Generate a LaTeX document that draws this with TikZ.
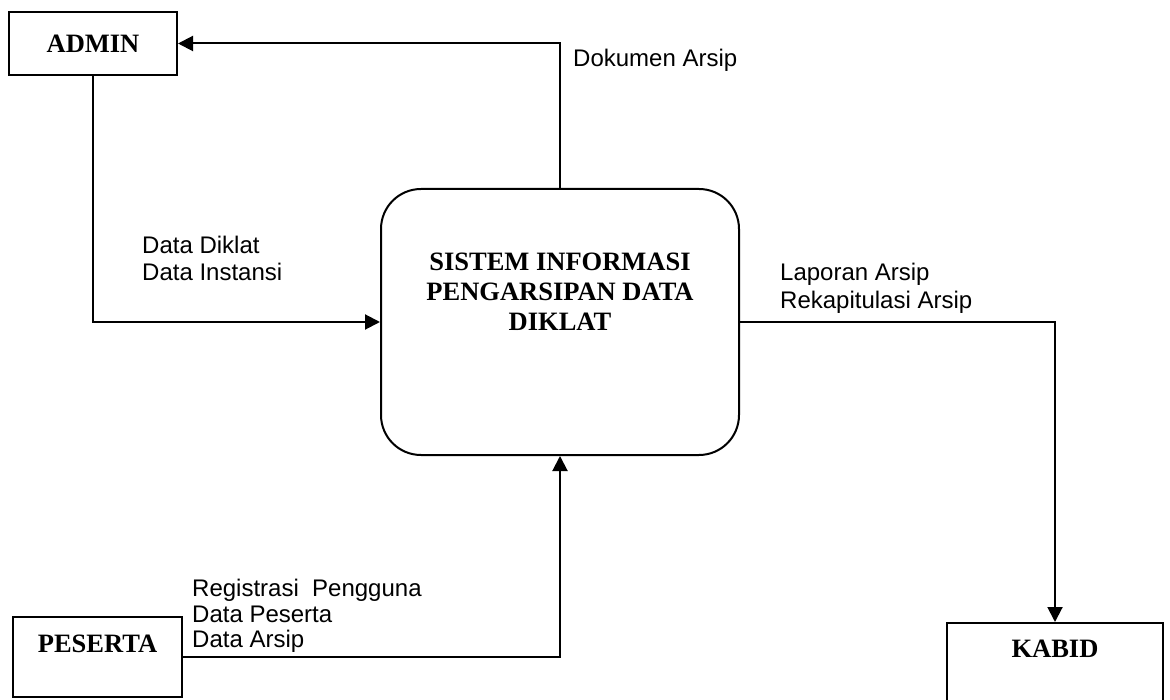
\documentclass[tikz,border=0pt]{standalone}
\usepackage{fontspec}
\setmainfont{Liberation Serif}
\newfontfamily\arialfont{Liberation Sans}
\usetikzlibrary{arrows.meta}
\begin{document}
\begin{tikzpicture}[x=1pt,y=-1pt,
  lw/.style={line width=2pt},
  entity/.style={draw,lw,rectangle,inner sep=0pt},
  bigtext/.style={font=\bfseries\fontsize{26.5}{30}\selectfont,inner sep=0pt,text depth=0pt,align=center},
  flowlabel/.style={font=\arialfont\fontsize{24}{27}\selectfont,inner sep=0pt,text depth=0pt,align=left,anchor=west},
  arr/.style={lw,-{Triangle[length=15pt,width=15pt]}}]
\useasboundingbox (0,0) rectangle (1170,700);
\fill[white] (0,0) rectangle (1170,700);

% entities
\node[entity,minimum width=168pt,minimum height=63pt,font=\bfseries\fontsize{26.5}{30}\selectfont] (admin) at (93,43.5) {ADMIN};
\node[entity,minimum width=169pt,minimum height=80pt] (peserta) at (97.5,657) {};
\node[bigtext] (pesertatext) at (97.5,644) {PESERTA};
\node[entity,minimum width=216pt,minimum height=120pt] (kabid) at (1055,683) {};
\node[bigtext] (kabidtext) at (1055,649) {KABID};

% process
\node[draw,lw,rounded corners=40pt,minimum width=358pt,minimum height=266pt,inner sep=0pt] (sys) at (560,322) {};
\node[bigtext] (systext) at (560,292) {SISTEM INFORMASI\\PENGARSIPAN DATA\\DIKLAT};

% flows
\draw[arr] (sys.north) |- (admin.east);
\draw[arr] (admin.south) |- (sys.west);
\draw[arr] (sys.east) -| (kabid.north);
\draw[arr] (peserta.east) -| (sys.south);

% labels
\node[flowlabel] (l1) at (573,58) {Dokumen Arsip};
\node[flowlabel] (l2) at (142,258.5) {Data Diklat\\Data Instansi};
\node[flowlabel,font=\arialfont\fontsize{24}{28}\selectfont] (l3) at (780,286) {Laporan Arsip\\Rekapitulasi Arsip};
\node[flowlabel,font=\arialfont\fontsize{24}{25.5}\selectfont] (l4) at (192,613.5) {Registrasi\ \ Pengguna\\Data Peserta\\Data Arsip};
\end{tikzpicture}
\end{document}
